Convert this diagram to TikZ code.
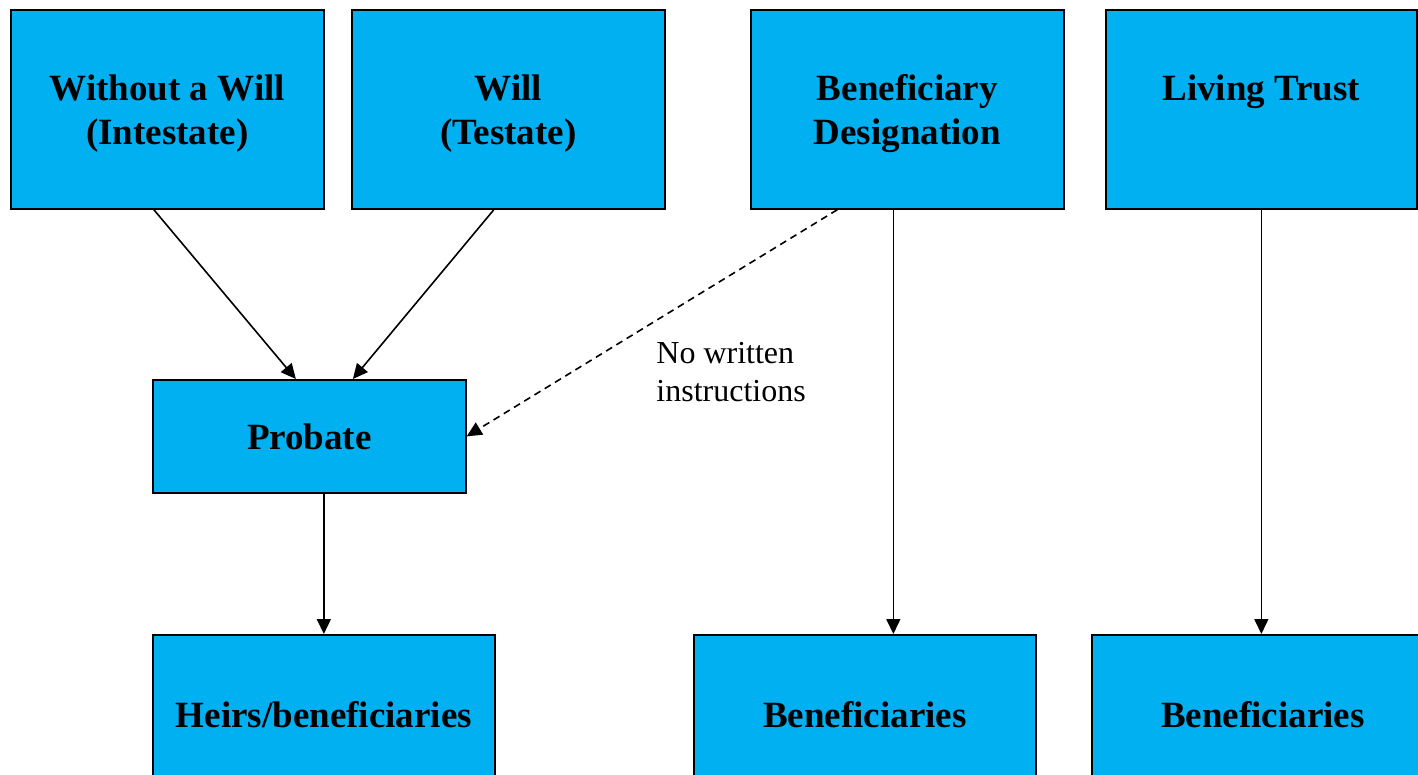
\documentclass[tikz,border=0pt]{standalone}
\usepackage{fontspec}
\setmainfont{Liberation Serif}
\usetikzlibrary{calc}
\usetikzlibrary{arrows.meta}

\begin{document}
\begin{tikzpicture}[x=0.5pt,y=-0.5pt,
  estatebox/.style={draw=black,line width=0.85pt,fill=estateblue,anchor=north west,
    align=center,inner sep=0pt,font=\fontsize{18.5}{22}\selectfont\bfseries},
  sourcebox/.style={estatebox,minimum width=156.5pt,minimum height=99.5pt,text depth=0pt},
  probatebox/.style={estatebox,minimum width=156.5pt,minimum height=56.5pt},
  heirbox/.style={estatebox,minimum width=171pt,minimum height=80pt},
  flow/.style={line width=0.8pt,-{Triangle[length=7.5pt,width=7pt]}},
  notelabel/.style={anchor=west,align=left,inner sep=0pt,font=\fontsize{16}{19}\selectfont}]
\definecolor{estateblue}{RGB}{0,176,240}
\useasboundingbox (0,0) rectangle (1418,775);

\node[sourcebox] (Intestate) at (10,9) {Without a Will\\(Intestate)};
\node[sourcebox] (Testate) at (351,9) {Will\\(Testate)};
\node[sourcebox] (Designation) at (750,9) {Beneficiary\\Designation};
\node[sourcebox,minimum width=155.5pt] (Trust) at (1105,9) {Living Trust\\\phantom{X}};

\node[probatebox] (Probate) at (152,379) {Probate};

\node[heirbox] (Heirs) at (152,634) {Heirs/beneficiaries};
\node[heirbox] (DesignationBen) at (693,634) {Beneficiaries};
\node[heirbox] (TrustBen) at (1091,634) {Beneficiaries};

\coordinate (DesignationOut) at ($(Designation.south)+(-14,0)$);

\draw[flow] ($(Intestate.south)+(-13.5,0)$) -- ($(Probate.north)+(-13.5,0)$);
\draw[flow] ($(Testate.south)+(-14.5,0)$) -- ($(Probate.north)+(43.5,0)$);
\draw[flow,dash pattern=on 3.5pt off 2.5pt] ($(Designation.south)+(-70,0)$) -- (Probate.east);
\draw[flow] (Heirs.north |- Probate.south) -- (Heirs.north);
\draw[flow] (DesignationOut) -- (DesignationOut |- DesignationBen.north);
\draw[flow] (Trust.south) -- (Trust.south |- TrustBen.north);

\node[notelabel] (NoInstructions) at (656,372) {No written\\instructions};
\end{tikzpicture}
\end{document}
